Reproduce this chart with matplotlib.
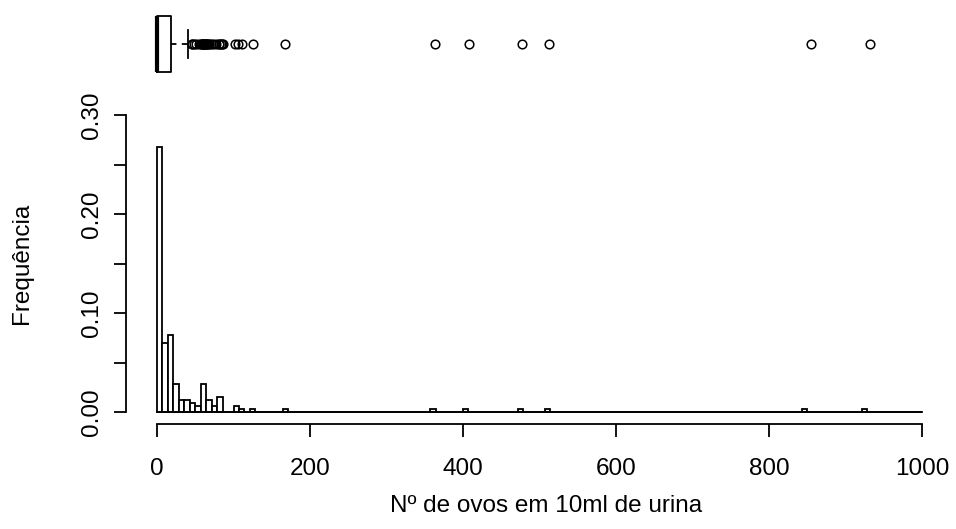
import numpy as np
import matplotlib
matplotlib.use("Agg")
import matplotlib.pyplot as plt

# ---------------- data ----------------
# histogram: 140 equal bins over 0..1000; frequencies of the non-empty bins
n_bins = 140
x_range = (0, 1000)
bin_index = [0, 1, 2, 3, 4, 5, 6, 7, 8, 9, 10, 11, 14, 15, 17,
             23, 50, 56, 66, 71, 118, 129]
bin_freq = [0.268, 0.0702, 0.0776, 0.0285, 0.0125, 0.0125, 0.0095, 0.0065,
            0.0285, 0.0125, 0.0065, 0.0155, 0.0065, 0.0034, 0.0034,
            0.0030, 0.0030, 0.0030, 0.0030, 0.0030, 0.0030, 0.0030]

# boxplot statistics (same variable)
box_q1 = 0.0
box_median = 0.0
box_q3 = 17.8
box_whislo = 0.0
box_whishi = 40.6
box_outliers = [45, 46, 48, 51, 54, 57.5, 58, 59, 60, 60.5, 61, 62, 63, 63.5,
                65, 66, 68, 70, 73, 76, 80, 81, 83, 84, 85, 101, 105, 110,
                125, 166, 361, 405, 474, 509, 848, 925]

x_ticks = [0, 200, 400, 600, 800, 1000]
y_ticks = [0.00, 0.05, 0.10, 0.15, 0.20, 0.25, 0.30]
y_ticklabels = ["0.00", "", "0.10", "", "0.20", "", "0.30"]
x_label = "Nº de ovos em 10ml de urina"
y_label = "Frequência"

# ---------------- figure ----------------
W, H = 956, 529
fig = plt.figure(figsize=(W / 100, H / 100), dpi=100)
plt.rcParams['font.family'] = ['Liberation Sans', 'DejaVu Sans']
FS = 17.5
LW = 1.3

def fpos(x0, y0, x1, y1):
    # pixel box (top-left origin) -> figure fraction
    return [x0 / W, 1 - y1 / H, (x1 - x0) / W, (y1 - y0) / H]

px_left, px_right = 126.4, 952.6
ax = fig.add_axes(fpos(px_left, 103.4, px_right, 424.0))

edges = np.linspace(x_range[0], x_range[1], n_bins + 1)
heights = np.zeros(n_bins)
for i, f in zip(bin_index, bin_freq):
    heights[i] = f
ax.bar(edges[:-1], heights, width=np.diff(edges), align='edge',
       facecolor='white', edgecolor='black', linewidth=LW)
# zero-height bins are drawn by R as flat lines
ax.plot([edges[0], edges[-1]], [0, 0], color='black', lw=LW)

ax.set_xlim(-40, 1040)
ax.set_ylim(-0.012, 0.312)
for s in ['top', 'right']:
    ax.spines[s].set_visible(False)
ax.spines['left'].set_bounds(0, 0.30)
ax.spines['bottom'].set_bounds(0, 1000)
for s in ['left', 'bottom']:
    ax.spines[s].set_linewidth(LW)
ax.set_xticks(x_ticks)
ax.set_xticklabels([str(t) for t in x_ticks])
ax.set_yticks(y_ticks)
ax.set_yticklabels(y_ticklabels, rotation=90, va='center')
ax.tick_params(axis='x', length=9, width=LW, pad=15.5, labelsize=FS)
ax.tick_params(axis='y', length=9, width=LW, pad=7.5, labelsize=FS)
ax.set_xlabel(x_label, fontsize=FS)
ax.xaxis.label.set_va('center')
ax.xaxis.set_label_coords((546 - px_left) / (px_right - px_left),
                          (424.0 - 506) / (424.0 - 103.4))
ax.set_ylabel(y_label, fontsize=FS)
ax.yaxis.label.set_va('center')
ax.yaxis.set_label_coords((22 - px_left) / (px_right - px_left), 0.5)

# ---------------- boxplot ----------------
axb = fig.add_axes(fpos(px_left, 10, px_right, 78))
stats = [dict(q1=box_q1, med=box_median, q3=box_q3, whislo=box_whislo,
              whishi=box_whishi, fliers=box_outliers)]
axb.bxp(stats, positions=[0.5], widths=0.834, vert=False, capwidths=0.417,
        boxprops=dict(color='black', lw=LW),
        medianprops=dict(color='black', lw=3.0),
        whiskerprops=dict(color='black', lw=LW, linestyle=(0, (3, 3))),
        capprops=dict(color='black', lw=LW),
        flierprops=dict(marker='o', markerfacecolor='none',
                        markeredgecolor='black', markersize=6.2,
                        markeredgewidth=1.1))
axb.set_xlim((px_left - 157) / 0.771, (px_right - 157) / 0.771)
axb.set_ylim(0, 1)
axb.axis('off')

fig.savefig("out.png", dpi=100)
